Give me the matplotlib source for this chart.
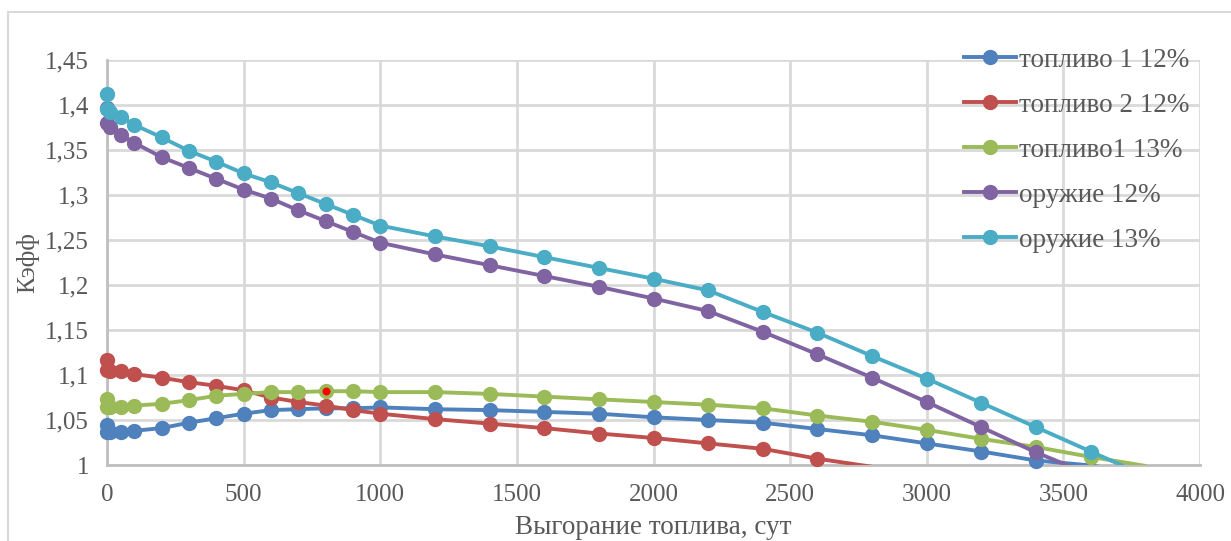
import matplotlib
matplotlib.use("Agg")
import matplotlib.pyplot as plt
from matplotlib.patches import Rectangle
from matplotlib.lines import Line2D

plt.rcParams['font.family'] = ['Liberation Serif', 'DejaVu Serif']

# burnup, days
burnup = [0, 1, 10, 50, 100, 200, 300, 400, 500, 600, 700, 800, 900, 1000,
          1200, 1400, 1600, 1800, 2000, 2200, 2400, 2600, 2800, 3000, 3200,
          3400, 3600, 3800]

fuel1_12 = [1.044, 1.037, 1.037, 1.037, 1.038, 1.041, 1.047, 1.052, 1.057, 1.061,
            1.062, 1.063, 1.063, 1.064, 1.062, 1.061, 1.059, 1.057, 1.053, 1.050,
            1.047, 1.040, 1.033, 1.024, 1.015, 1.005, 0.9995, 0.990]
fuel2_12 = [1.117, 1.106, 1.105, 1.105, 1.101, 1.097, 1.092, 1.088, 1.083, 1.075,
            1.070, 1.066, 1.061, 1.057, 1.051, 1.046, 1.041, 1.035, 1.030, 1.024,
            1.018, 1.007, 0.998]
fuel1_13 = [1.073, 1.065, 1.065, 1.065, 1.066, 1.068, 1.072, 1.077, 1.079, 1.081,
            1.081, 1.082, 1.082, 1.081, 1.081, 1.079, 1.076, 1.073, 1.070, 1.067,
            1.063, 1.055, 1.048, 1.039, 1.029, 1.020, 1.009, 0.999]
weapon_12 = [1.397, 1.380, 1.3755, 1.367, 1.358, 1.342, 1.330, 1.318, 1.306, 1.296,
             1.283, 1.271, 1.259, 1.247, 1.234, 1.222, 1.210, 1.198, 1.185, 1.171,
             1.148, 1.123, 1.097, 1.070, 1.042, 1.014, 0.989]
weapon_13 = [1.412, 1.396, 1.392, 1.387, 1.378, 1.364, 1.349, 1.337, 1.324, 1.314,
             1.302, 1.290, 1.278, 1.266, 1.254, 1.243, 1.231, 1.219, 1.207, 1.194,
             1.170, 1.147, 1.121, 1.096, 1.069, 1.042, 1.015, 0.988]

labels = ["топливо 1 12%", "топливо 2 12%", "топливо1 13%", "оружие 12%", "оружие 13%"]
colors = ["#4F81BD", "#C0504D", "#9BBB59", "#8064A2", "#4BACC6"]
series = [fuel1_12, fuel2_12, fuel1_13, weapon_12, weapon_13]

x_ticks = [0, 500, 1000, 1500, 2000, 2500, 3000, 3500, 4000]
y_ticks = [1, 1.05, 1.1, 1.15, 1.2, 1.25, 1.3, 1.35, 1.4, 1.45]
y_ticklabels = ["1", "1,05", "1,1", "1,15", "1,2", "1,25", "1,3", "1,35", "1,4", "1,45"]

# highlighted point on "топливо1 13%"
mark_x = 800

fig = plt.figure(figsize=(12.31, 5.41), dpi=100)
ax = fig.add_axes([107/1231, 76/541, 1093/1231, 405/541])

# outer chart border
fig.patches.append(Rectangle((8/1231, -0.1), 1.2, (541-12)/541 + 0.1,
                             transform=fig.transFigure, fill=False,
                             edgecolor="#D9D9D9", lw=1.5))

handles = []
for k, (ys, lab, c) in enumerate(zip(series, labels, colors)):
    xs = burnup[:len(ys)]
    ax.plot(xs, ys, color=c, lw=2.8, zorder=3 + k * 0.1, solid_capstyle="round")
    mx = [x for x, v in zip(xs, ys) if v >= 1]
    my = [v for v in ys if v >= 1]
    ax.plot(mx, my, "o", color=c, ms=10, clip_on=False, zorder=3.05 + k * 0.1)
    handles.append(Line2D([], [], color=c, lw=2.8, marker="o", ms=10, label=lab))

i = burnup.index(mark_x)
ax.plot([mark_x], [fuel1_13[i]], "o", ms=7, mfc="#FF0000", mec="#9BBB59", mew=1.2,
        zorder=5)

ax.set_xlim(0, 4000)
ax.set_ylim(1, 1.45)
ax.set_xticks(x_ticks)
ax.set_yticks(y_ticks)
ax.set_yticklabels(y_ticklabels)
ax.tick_params(length=0, labelsize=18, colors="#595959")
ax.tick_params(axis="x", pad=14)
ax.tick_params(axis="y", pad=13)
ax.grid(True, color="#D9D9D9", lw=2)
ax.set_axisbelow(True)
for s in ["top", "right"]:
    ax.spines[s].set_visible(False)
for s in ["left", "bottom"]:
    ax.spines[s].set_color("#BFBFBF")
    ax.spines[s].set_linewidth(2)

ax.set_xlabel("Выгорание топлива, сут", fontsize=19.5, color="#595959", labelpad=6)
ax.set_ylabel("Кэфф", fontsize=18.5, color="#595959", labelpad=4)

ax.legend(handles=handles, loc="upper left", bbox_to_anchor=(950/1231, (541-34)/541),
          bbox_transform=fig.transFigure, frameon=False, fontsize=19.5,
          handlelength=1.95, handletextpad=0.1, labelspacing=0.74, borderpad=0,
          labelcolor="#595959")

fig.savefig("out.png", dpi=100)
